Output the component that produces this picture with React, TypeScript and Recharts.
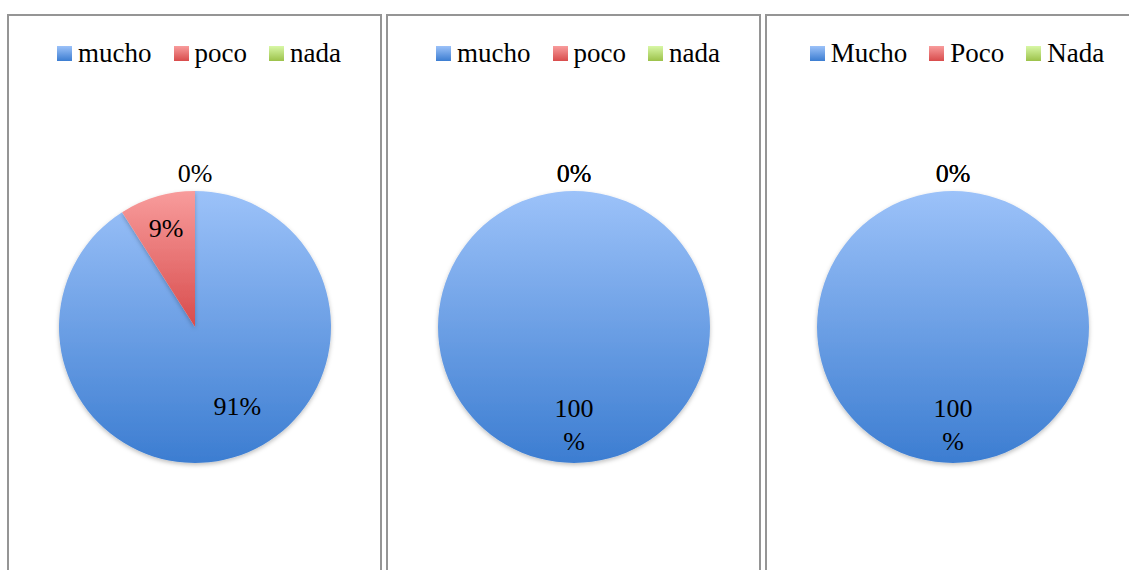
import React from "react";
import { PieChart, Pie, Cell, Legend } from "recharts";

// categories / values per panel
const namesA = ["mucho", "poco", "nada"];
const namesB = ["Mucho", "Poco", "Nada"];
const values1 = [91, 9, 0];
const values2 = [100, 0, 0];
const values3 = [100, 0, 0];

const gradients = [
  { id: "g-blue", top: "#9cc2f9", bottom: "#3c7dd1" },
  { id: "g-red", top: "#f89c9c", bottom: "#d84c4c" },
  { id: "g-green", top: "#d8f7a6", bottom: "#9cc24a" },
];

const FONT = "Liberation Serif, DejaVu Serif, serif";

// label placement per slice: radius factor and angle nudge (Excel-like)
const panels = [
  { names: namesA, values: values1, left: 7, labelR: [0.66, 0.76, 0], labelShift: [12, 0, 0] },
  { names: namesA, values: values2, left: 386, labelR: [0.71, 0, 0], labelShift: [0, 0, 0] },
  { names: namesB, values: values3, left: 765, labelR: [0.71, 0, 0], labelShift: [0, 0, 0] },
];

function LegendContent({ names }: { names: string[] }) {
  return (
    <div
      style={{
        display: "flex",
        justifyContent: "center",
        gap: 22,
        paddingLeft: 9,
        fontFamily: FONT,
        fontSize: 27,
        color: "#000",
        lineHeight: "30px",
      }}
    >
      {names.map((n, i) => (
        <div key={n} style={{ display: "flex", alignItems: "center", gap: 6 }}>
          <span
            style={{
              width: 15,
              height: 15,
              display: "inline-block",
              background: `linear-gradient(${gradients[i].top}, ${gradients[i].bottom})`,
            }}
          />
          <span>{n}</span>
        </div>
      ))}
    </div>
  );
}

function makeLabel(factors: number[], shifts: number[]) {
  return (props: any) => {
    const { cx, cy, midAngle, outerRadius, percent, index } = props;
    const RAD = Math.PI / 180;
    const pct = Math.round(percent * 100);
    const r = pct === 0 ? outerRadius + 18 : outerRadius * factors[index];
    const a = midAngle + shifts[index];
    const x = cx + r * Math.cos(-a * RAD);
    const y = cy + r * Math.sin(-a * RAD);
    const common = {
      fontFamily: FONT,
      fontSize: 26,
      fill: "#000",
      textAnchor: "middle" as const,
    };
    if (pct === 100) {
      return (
        <text x={x} y={y} {...common}>
          <tspan x={x} dy={-7}>100</tspan>
          <tspan x={x} dy={33}>%</tspan>
        </text>
      );
    }
    return (
      <text x={x} y={y} dy={9} {...common}>
        {pct}%
      </text>
    );
  };
}

export default function App() {
  return (
    <div
      style={{
        position: "fixed",
        left: 0,
        top: 0,
        width: 1129,
        height: 570,
        overflow: "hidden",
        background: "#fff",
        fontFamily: FONT,
      }}
    >
      {panels.map((p, pi) => {
        const data = p.names.map((n, i) => ({ name: n, value: p.values[i] }));
        return (
          <div
            key={pi}
            style={{
              position: "absolute",
              left: p.left,
              top: 14,
              width: 375,
              height: 600,
              boxSizing: "border-box",
              border: "2px solid #959595",
            }}
          >
            <PieChart width={371} height={560} margin={{ top: 0, right: 0, bottom: 0, left: 0 }}>
              <defs>
                {gradients.map((g) => (
                  <linearGradient key={g.id} id={`${g.id}-${pi}`} x1="0" y1="0" x2="0" y2="1">
                    <stop offset="0%" stopColor={g.top} />
                    <stop offset="100%" stopColor={g.bottom} />
                  </linearGradient>
                ))}
                <filter id={`shadow-${pi}`} x="-10%" y="-10%" width="120%" height="125%">
                  <feDropShadow dx="0" dy="2" stdDeviation="2" floodColor="#000" floodOpacity="0.25" />
                </filter>
              </defs>
              <Legend
                verticalAlign="top"
                wrapperStyle={{ top: 22, left: 0, width: 371 }}
                content={() => <LegendContent names={p.names} />}
              />
              <Pie
                data={data}
                dataKey="value"
                nameKey="name"
                cx={186}
                cy={281}
                outerRadius={136}
                startAngle={90}
                endAngle={-270}
                stroke="none"
                label={makeLabel(p.labelR, p.labelShift)}
                labelLine={false}
                isAnimationActive={false}
                style={{ filter: `url(#shadow-${pi})` }}
              >
                {data.map((d, i) => (
                  <Cell key={d.name} fill={`url(#${gradients[i].id}-${pi})`} />
                ))}
              </Pie>
            </PieChart>
          </div>
        );
      })}
    </div>
  );
}
